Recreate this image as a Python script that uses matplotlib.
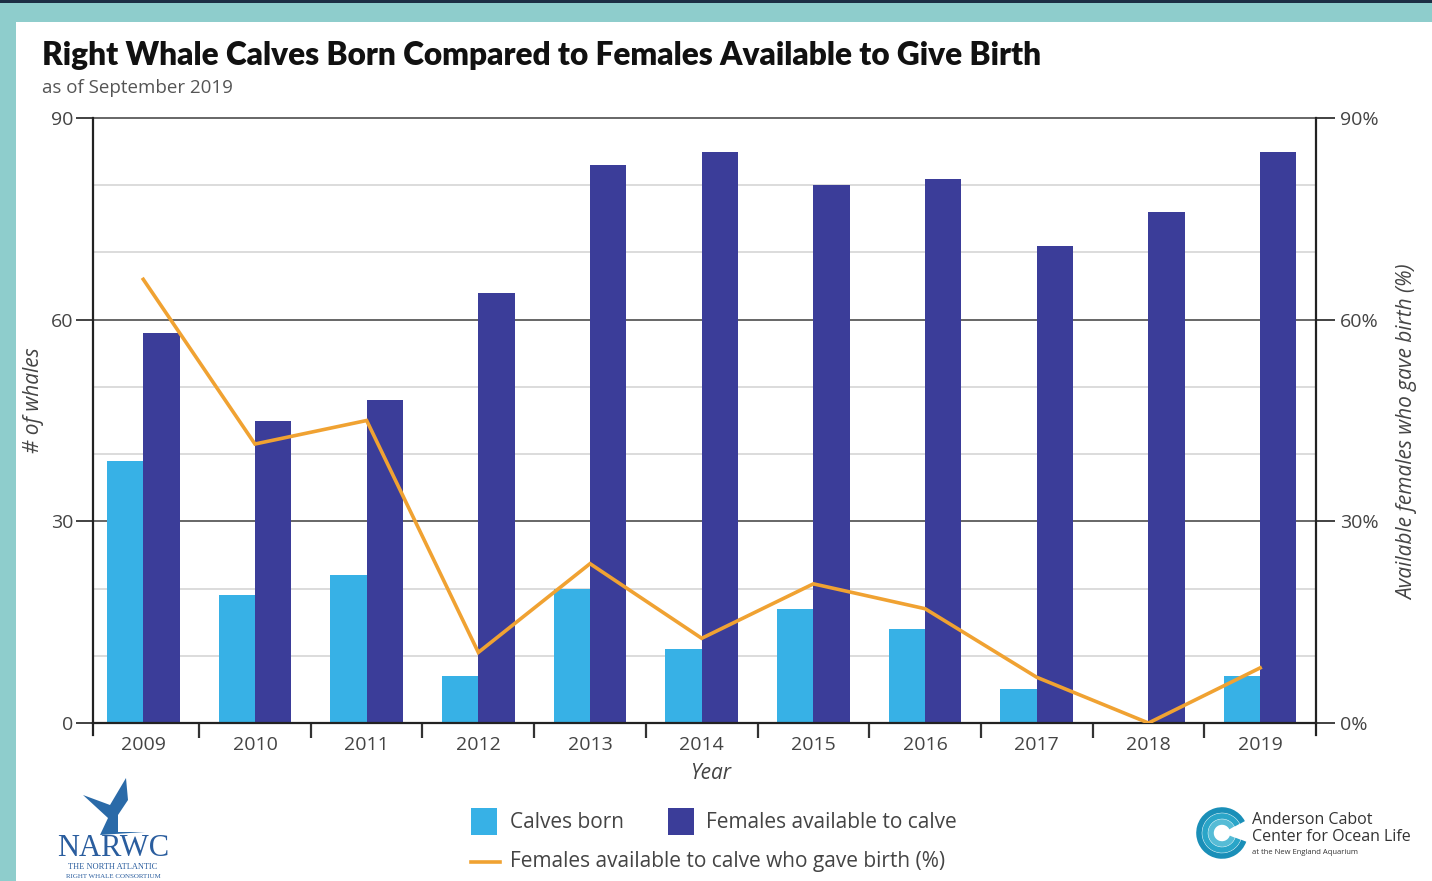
import matplotlib.pyplot as plt
import numpy as np
from matplotlib.patches import Rectangle, Arc, Polygon
from matplotlib.lines import Line2D

# data
years = ['2009', '2010', '2011', '2012', '2013', '2014', '2015', '2016', '2017', '2018', '2019']
calves = [39, 19, 22, 7, 20, 11, 17, 14, 5, 0, 7]
females = [58, 45, 48, 64, 83, 85, 80, 81, 71, 76, 85]
pct_gave_birth = [66, 41.5, 45, 10.5, 23.7, 12.6, 20.7, 17, 6.8, 0, 8.2]

light_blue = '#37b1e6'
dark_blue = '#3b3d99'
orange = '#f0a232'
teal = '#8ecdcc'
txt = '#444444'

plt.rcParams['font.family'] = ['Open Sans', 'DejaVu Sans']

fig = plt.figure(figsize=(14.32, 8.81), dpi=100)
fig.patch.set_facecolor(teal)
W, H = 1432.0, 881.0

# white panel + dark top strip
fig.patches.append(Rectangle((16 / W, 0), 1, (H - 22) / H, transform=fig.transFigure,
                             facecolor='white', edgecolor='none', zorder=-5))
fig.patches.append(Rectangle((0, (H - 3) / H), 1, 3 / H, transform=fig.transFigure,
                             facecolor='#1c2e44', edgecolor='none', zorder=-5))

ax = fig.add_axes([93 / W, 1 - 723 / H, (1316 - 93) / W, (723 - 118) / H])
ax.set_facecolor('none')

x = np.arange(len(years))
w = 0.325
ax.bar(x - w / 2, calves, w, color=light_blue, zorder=2)
ax.bar(x + w / 2, females, w, color=dark_blue, zorder=2)

ax.set_xlim(-0.45, 10.5)
ax.set_ylim(0, 90)

# grid
for v in [10, 20, 40, 50, 70, 80]:
    ax.axhline(v, color='#d6d6d6', lw=1.2, zorder=1)
for v in [30, 60, 90]:
    ax.axhline(v, color='#666666', lw=1.4, zorder=1, clip_on=False)

for s in ['top', 'right']:
    ax.spines[s].set_visible(False)
ax.spines['left'].set_color('#222222')
ax.spines['left'].set_linewidth(1.6)
ax.spines['bottom'].set_color('#222222')
ax.spines['bottom'].set_linewidth(1.6)
ax.spines['bottom'].set_zorder(3)
# left and right axis lines reach a bit below zero
ax.plot([0, 0], [0, -0.02], transform=ax.transAxes, color='#222222', lw=1.6, clip_on=False)
ax.plot([1, 1], [0, -0.02], transform=ax.transAxes, color='#222222', lw=1.6, clip_on=False)

ax.set_yticks([0, 30, 60, 90])
ax.tick_params(axis='y', length=12, width=1.3, color='#333333', labelsize=14,
               labelcolor=txt, pad=2)
ax.set_xticks(x)
ax.set_xticklabels(years)
ax.set_xticks(x[:-1] + 0.5, minor=True)
ax.tick_params(axis='x', which='major', length=0, labelsize=14, labelcolor=txt, pad=9)
ax.tick_params(axis='x', which='minor', length=11, width=1.6, color='#333333')

ax.set_ylabel('# of whales', fontsize=15, style='italic', color=txt)
ax.yaxis.set_label_coords(-(93 - 44) / 1223, (723 - 400) / 605)
ax.set_xlabel('Year', fontsize=15, style='italic', color=txt)
ax.xaxis.set_label_coords(0.505, -(763 - 723) / 605)

ax2 = ax.twinx()
ax2.set_ylim(0, 90)
ax2.plot(x, pct_gave_birth, color=orange, lw=2.6, zorder=5, solid_joinstyle='miter')
ax2.set_yticks([0, 30, 60, 90])
ax2.set_yticklabels(['0%', '30%', '60%', '90%'])
ax2.tick_params(axis='y', length=14, width=1.3, color='#333333', labelsize=14,
                labelcolor=txt, pad=3)
for s in ['top', 'left', 'bottom']:
    ax2.spines[s].set_visible(False)
ax2.spines['right'].set_color('#222222')
ax2.spines['right'].set_linewidth(1.6)
ax2.set_ylabel('Available females who gave birth (%)', fontsize=15, style='italic', color=txt)
ax2.yaxis.set_label_coords((1397 - 93) / 1223, 0.48)

# titles
title = fig.text(42 / W, 1 - 55 / H,
                 'Right Whale Calves Born Compared to Females Available to Give Birth',
                 family=['Liberation Sans Narrow', 'Lato', 'DejaVu Sans'], weight='heavy',
                 fontsize=28, color='#111111', va='center', ha='left')
# fit title to the width seen in the reference (~1003 px)
fig.canvas.draw()
tw = title.get_window_extent().width
title.set_fontsize(28 * 1003 / tw)
fig.text(42 / W, 1 - 88 / H, 'as of September 2019', fontsize=13.5, color='#555555',
         va='center', ha='left')

# legend
fig.patches.append(Rectangle((471 / W, 1 - 835 / H), 26 / W, 27 / H, transform=fig.transFigure,
                             facecolor=light_blue, edgecolor='none'))
fig.text(510 / W, 1 - 822 / H, 'Calves born', fontsize=15, color=txt, va='center')
fig.patches.append(Rectangle((668 / W, 1 - 835 / H), 26 / W, 27 / H, transform=fig.transFigure,
                             facecolor=dark_blue, edgecolor='none'))
fig.text(706 / W, 1 - 822 / H, 'Females available to calve', fontsize=15, color=txt, va='center')
fig.lines.append(Line2D([471 / W, 500 / W], [1 - 862 / H, 1 - 862 / H], transform=fig.transFigure,
                        color=orange, lw=2.6))
fig.text(510 / W, 1 - 862 / H, 'Females available to calve who gave birth (%)', fontsize=15,
         color=txt, va='center')

# NARWC logo (rough)
tail = Polygon([[83 / W, 1 - 795 / H], [110 / W, 1 - 805 / H], [126 / W, 1 - 778 / H],
                [128 / W, 1 - 800 / H], [118 / W, 1 - 815 / H], [118 / W, 1 - 832 / H],
                [145 / W, 1 - 832 / H], [100 / W, 1 - 835 / H], [108 / W, 1 - 818 / H]],
               closed=True, transform=fig.transFigure, facecolor='#2a6aa8', edgecolor='none')
fig.patches.append(tail)
fig.text(113 / W, 1 - 849 / H, 'NARWC', family=['Liberation Serif', 'DejaVu Serif'], fontsize=22,
         color='#2a5d9e', ha='center', va='center')
fig.text(113 / W, 1 - 867 / H, 'THE NORTH ATLANTIC', family=['Liberation Serif', 'DejaVu Serif'],
         fontsize=6, color='#2a5d9e', ha='center', va='center')
fig.text(113 / W, 1 - 876 / H, 'RIGHT WHALE CONSORTIUM', family=['Liberation Serif', 'DejaVu Serif'],
         fontsize=5, color='#2a5d9e', ha='center', va='center')

# Anderson Cabot logo (rough)
for r, c in [(46, '#1a8fb8'), (34, '#2aa5c8'), (22, '#56bcd6')]:
    fig.patches.append(Arc((1222 / W, 1 - 833 / H), r / W, r / H, theta1=40, theta2=330,
                           transform=fig.transFigure, color=c, lw=4))
fig.text(1252 / W, 1 - 820 / H, 'Anderson Cabot', fontsize=11.5, color='#333333', va='center')
fig.text(1252 / W, 1 - 837 / H, 'Center for Ocean Life', fontsize=11.5, color='#333333', va='center')
fig.text(1252 / W, 1 - 853 / H, 'at the New England Aquarium', fontsize=5.5, color='#333333',
         va='center')

fig.savefig('out.png', dpi=100, facecolor=fig.get_facecolor())
